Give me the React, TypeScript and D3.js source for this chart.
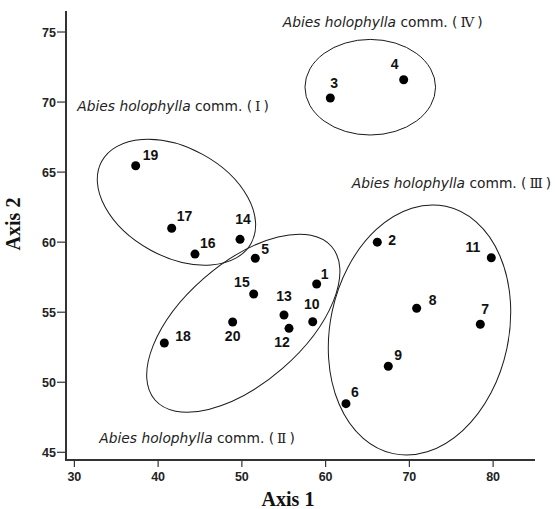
import React from "react";
import * as d3 from "d3";

// ---- data ----
const plotIds = ["1","2","3","4","5","6","7","8","9","10","11","12","13","14","15","16","17","18","19","20"];
const axis1Values = [58.93, 66.17, 60.56, 69.32, 51.6, 62.43, 78.47, 70.87, 67.48, 58.46, 79.78, 55.63, 55.03, 49.78, 51.41, 44.4, 41.62, 40.74, 37.32, 48.9];
const axis2Values = [57.01, 60.0, 70.29, 71.59, 58.85, 48.47, 54.14, 55.28, 51.14, 54.32, 58.89, 53.85, 54.8, 60.2, 56.3, 59.15, 60.99, 52.8, 65.45, 54.3];
const xTicks = [30, 40, 50, 60, 70, 80];
const yTicks = [45, 50, 55, 60, 65, 70, 75];
const groupNames = ["Ⅰ", "Ⅱ", "Ⅲ", "Ⅳ"];
const groupCenterX = [42.19, 50.17, 71.21, 65.33];
const groupCenterY = [62.85, 54.21, 53.73, 71.06];

// ---- layout (pixels) ----
const W = 556, H = 509;
const ellipseShape = [
  { rx: 85.2, ry: 54.5, rot: 28.7 },
  { rx: 117, ry: 59.8, rot: -41 },
  { rx: 89.3, ry: 126.4, rot: 12 },
  { rx: 65.3, ry: 47.8, rot: 0 },
];
const groupLabelPos = [
  { x: 77.3, y: 111 },
  { x: 99.3, y: 443 },
  { x: 351.7, y: 188 },
  { x: 282.7, y: 27 },
];
// label offsets: dx, dy, anchor
const labelOffsets: [number, number, string][] = [
  [4, -5, "start"],   // 1
  [11, 3, "start"],   // 2
  [0, -10, "start"],  // 3
  [-13, -11, "start"],// 4
  [6, -4, "start"],   // 5
  [5, -7, "start"],   // 6
  [1, -10, "start"],  // 7
  [12, -3, "start"],  // 8
  [6, -6, "start"],   // 9
  [-1, -13, "middle"],// 10
  [-11, -6, "end"],   // 11
  [-7, 19, "middle"], // 12
  [0, -14, "middle"], // 13
  [3, -15, "middle"], // 14
  [-4, -7, "end"],    // 15
  [5, -6, "start"],   // 16
  [5, -7, "start"],   // 17
  [11, -2, "start"],  // 18
  [7, -6, "start"],   // 19
  [0, 19, "middle"],  // 20
];

export default function App() {
  const x = d3.scaleLinear().domain([29, 85]).range([66, 535]);
  const y = d3.scaleLinear().domain([44.45, 76.5]).range([460, 11]);
  const ink = "#1a1a1a";
  const sans = "'Liberation Sans', Arial, sans-serif";
  const annFont = "'DejaVu Sans', Verdana, sans-serif";

  return (
    <svg width={W} height={H} style={{ position: "absolute", left: 0, top: 0, background: "#fff" }}>
      <rect width={W} height={H} fill="#fff" />
      {/* ellipses */}
      {groupNames.map((g, i) => (
        <ellipse
          key={"e" + g}
          transform={`translate(${x(groupCenterX[i])},${y(groupCenterY[i])}) rotate(${ellipseShape[i].rot})`}
          rx={ellipseShape[i].rx}
          ry={ellipseShape[i].ry}
          fill="none"
          stroke={ink}
          strokeWidth={1}
        />
      ))}
      {/* axes */}
      <line x1={66} x2={66} y1={y.range()[1]} y2={y.range()[0] + 1} stroke="#333" strokeWidth={2} />
      <line x1={65} x2={x.range()[1]} y1={460} y2={460} stroke="#333" strokeWidth={2} />
      {yTicks.map((t) => (
        <g key={"yt" + t}>
          <line x1={57} x2={66} y1={y(t)} y2={y(t)} stroke="#333" strokeWidth={1.2} />
          <text x={56} y={y(t) + 4.5} textAnchor="end" fontFamily={sans} fontWeight="bold" fontSize={12.5} fill="#222">{t}</text>
        </g>
      ))}
      {xTicks.map((t) => (
        <g key={"xt" + t}>
          <line x1={x(t)} x2={x(t)} y1={460} y2={467} stroke="#333" strokeWidth={1.2} />
          <text x={x(t)} y={481} textAnchor="middle" fontFamily={sans} fontWeight="bold" fontSize={12.5} fill="#222">{t}</text>
        </g>
      ))}
      <text x={288} y={506} textAnchor="middle" fontFamily="'Liberation Serif', 'Times New Roman', serif" fontWeight="bold" fontSize={20} fill="#111">Axis 1</text>
      <text transform="translate(20,224) rotate(-90)" textAnchor="middle" fontFamily="'Liberation Serif', 'Times New Roman', serif" fontWeight="bold" fontSize={20} fill="#111">Axis 2</text>
      {/* points */}
      {plotIds.map((id, i) => (
        <g key={"p" + id}>
          <circle cx={x(axis1Values[i])} cy={y(axis2Values[i])} r={4.5} fill="#000" />
          <text
            x={x(axis1Values[i]) + labelOffsets[i][0]}
            y={y(axis2Values[i]) + labelOffsets[i][1]}
            textAnchor={labelOffsets[i][2] as any}
            fontFamily={sans}
            fontWeight="bold"
            fontSize={14}
            fill="#111"
          >{id}</text>
        </g>
      ))}
      {/* group labels */}
      {groupNames.map((g, i) => (
        <text key={"l" + g} x={groupLabelPos[i].x} y={groupLabelPos[i].y} fontFamily={annFont} fontSize={13.8} fill="#222">
          <tspan fontStyle="italic">Abies holophylla</tspan>
          <tspan> comm. (</tspan>
          <tspan fontFamily="'DejaVu Serif', serif" dx={3}>{g}</tspan>
          <tspan dx={3}>)</tspan>
        </text>
      ))}
    </svg>
  );
}
